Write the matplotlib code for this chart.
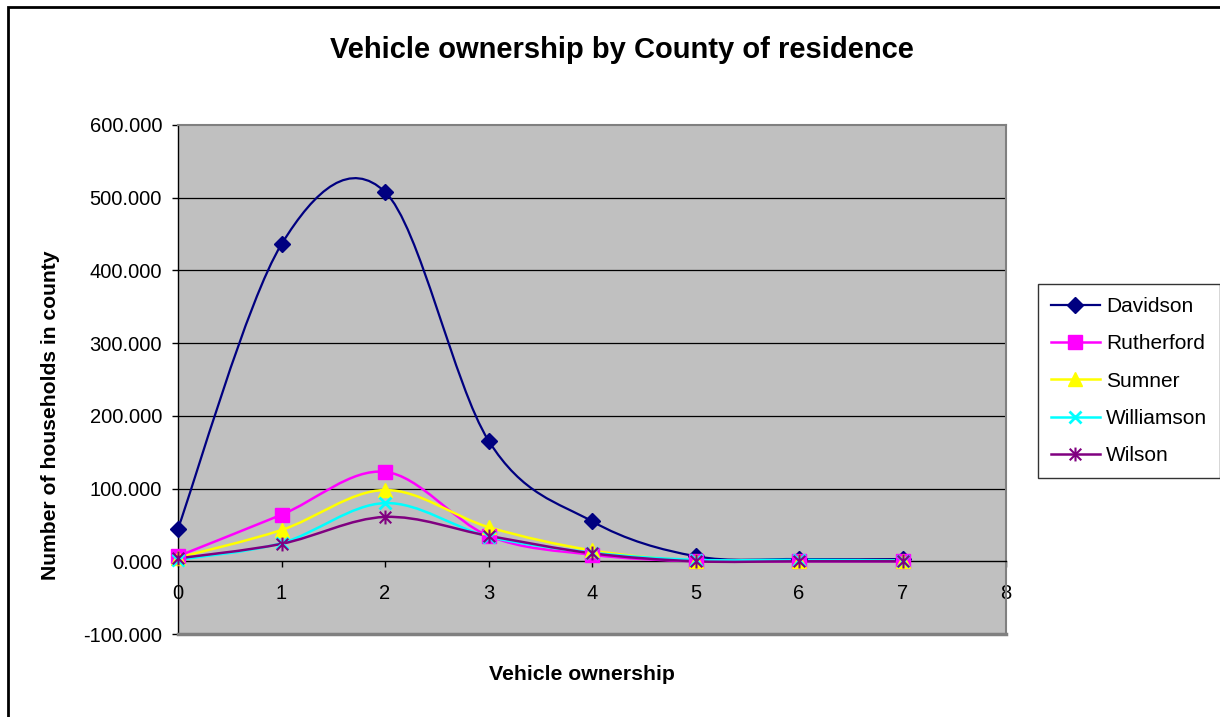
import matplotlib
matplotlib.use('Agg')
import matplotlib.pyplot as plt
from matplotlib.path import Path
from matplotlib.patches import PathPatch, Rectangle
from matplotlib.lines import Line2D

plt.rcParams['font.family'] = ['Liberation Sans', 'DejaVu Sans']

# Data
vehicles = [0, 1, 2, 3, 4, 5, 6, 7]
davidson = [45, 436, 508, 166, 55, 7, 3, 3]
rutherford = [7, 64, 123, 35, 9, 0, 0, 0]
sumner = [5, 43, 98, 47, 15, 1, 1, 1]
williamson = [2, 25, 80, 34, 12, 2, 2, 1]
wilson = [4, 24, 61, 35, 11, 0, 0, 0]

series_names = ['Davidson', 'Rutherford', 'Sumner', 'Williamson', 'Wilson']
series_values = [davidson, rutherford, sumner, williamson, wilson]
y_ticks = [-100, 0, 100, 200, 300, 400, 500, 600]
x_ticks = [0, 1, 2, 3, 4, 5, 6, 7, 8]

# excel style star marker: x with a vertical bar
star = Path([(-1, -1), (1, 1), (-1, 1), (1, -1), (0, -1.2), (0, 1.2)],
            [Path.MOVETO, Path.LINETO, Path.MOVETO, Path.LINETO, Path.MOVETO, Path.LINETO])

styles = [
    dict(color='#000080', marker='D', ms=8.5, lw=1.6, mew=1),
    dict(color='#FF00FF', marker='s', ms=9.5, lw=1.8, mew=1),
    dict(color='#FFFF00', marker='^', ms=10, lw=1.8, mew=1),
    dict(color='#00FFFF', marker='x', ms=9, lw=1.8, mew=2),
    dict(color='#800080', marker=star, ms=10, lw=1.8, mew=1.5),
]


def smooth_path(xs, ys):
    # bezier segments like excel's smoothed line
    pts = list(zip(xs, ys))
    n = len(pts)
    verts = [pts[0]]
    codes = [Path.MOVETO]
    for i in range(n - 1):
        p0 = pts[max(i - 1, 0)]
        p1 = pts[i]
        p2 = pts[i + 1]
        p3 = pts[min(i + 2, n - 1)]
        c1 = (p1[0] + (p2[0] - p0[0]) / 6, p1[1] + (p2[1] - p0[1]) / 6)
        c2 = (p2[0] - (p3[0] - p1[0]) / 6, p2[1] - (p3[1] - p1[1]) / 6)
        verts += [c1, c2, p2]
        codes += [Path.CURVE4] * 3
    return Path(verts, codes)


fig = plt.figure(figsize=(12.2, 7.17), dpi=100)
W, H = 1220, 717
ax = fig.add_axes([178 / W, 1 - 634 / H, 828 / W, 509 / H])
ax.set_facecolor('#C0C0C0')
ax.set_xlim(0, 8)
ax.set_ylim(-100, 600)

for v in [100, 200, 300, 400, 500]:
    ax.axhline(v, color='black', lw=0.9, zorder=1)

handles = []
for name, vals, st in zip(series_names, series_values, styles):
    ax.add_patch(PathPatch(smooth_path(vehicles, vals), fill=False,
                           edgecolor=st['color'], lw=st['lw'], zorder=3))
    ax.plot(vehicles, vals, linestyle='none', marker=st['marker'], ms=st['ms'],
            color=st['color'], mec=st['color'], mew=st['mew'], zorder=4, clip_on=False)
    handles.append(Line2D([], [], color=st['color'], lw=st['lw'], marker=st['marker'],
                          ms=st['ms'], mew=st['mew'], label=name))

# axes look
ax.spines['bottom'].set_position(('data', 0))
ax.spines['bottom'].set_color('black')
ax.spines['bottom'].set_linewidth(1)
ax.spines['left'].set_color('black')
ax.spines['left'].set_linewidth(1)
for s in ['top', 'right']:
    ax.spines[s].set_color('#808080')
    ax.spines[s].set_linewidth(1.5)
ax.axhline(-100, color='#808080', lw=2.5, zorder=5, clip_on=False)

ax.set_yticks(y_ticks)
ax.set_yticklabels([f'{v:.3f}' for v in y_ticks])
ax.set_xticks(x_ticks)
ax.set_xticklabels([str(v) for v in x_ticks])
ax.tick_params(axis='y', direction='out', length=4.5, width=1, pad=7, labelsize=14.5)
ax.tick_params(axis='x', direction='out', length=4.5, width=1, pad=12, labelsize=14.5)

fig.text(622 / W, 1 - 50 / H, 'Vehicle ownership by County of residence',
         ha='center', va='center', fontsize=21, fontweight='bold')
fig.text(582 / W, 1 - 675 / H, 'Vehicle ownership', ha='center', va='center',
         fontsize=15.3, fontweight='bold')
fig.text(51 / W, 1 - 415 / H, 'Number of households in county', ha='center',
         va='center', rotation=90, fontsize=15.2, fontweight='bold')

leg = fig.legend(handles=handles, loc='upper left', bbox_to_anchor=(1038 / W, 1 - 284 / H),
                 borderaxespad=0, fontsize=15, handlelength=2.35, labelspacing=0.88,
                 fancybox=False, frameon=True, edgecolor='black', borderpad=0.62,
                 handletextpad=0.3)
leg.get_frame().set_linewidth(1)

# chart area border (only left and top visible)
fig.add_artist(Rectangle((8 / W, -0.2), 2, 1.2 - 7 / H, transform=fig.transFigure,
                         fill=False, edgecolor='black', lw=2))

fig.savefig('out.png', dpi=100, facecolor='white')
